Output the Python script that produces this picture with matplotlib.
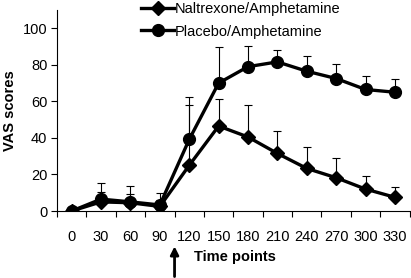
import matplotlib.pyplot as plt
import matplotlib.transforms as mtransforms
import numpy as np

plt.rcParams['font.family'] = ['Liberation Sans', 'DejaVu Sans']

time_points = [0, 30, 60, 90, 120, 150, 180, 210, 240, 270, 300, 330]
naltrexone = [0, 5, 4.5, 2.5, 25, 46.5, 40.5, 31.5, 23.3, 18.2, 12, 7.5]
naltrexone_err = [0, 5.5, 5, 3.5, 33, 15, 17.5, 12.5, 11.8, 10.6, 7.1, 5.8]
placebo = [0, 6.5, 5, 3.3, 39.2, 70, 79, 81.6, 76.5, 72.5, 66.5, 65]
placebo_err = [0, 9, 8.8, 6.4, 23, 19.8, 11.3, 6.7, 8.4, 8.2, 7.4, 7.5]

x = np.arange(len(time_points))
fs = 10.5

fig = plt.figure(figsize=(4.11, 2.78), dpi=100)
ax = fig.add_axes([0.1387, 0.241, 0.858, 0.723])

# upper error bars only
ax.errorbar(x, naltrexone, yerr=[np.zeros(len(x)), naltrexone_err], fmt='none',
            ecolor='black', elinewidth=0.8, capsize=3, capthick=0.8, zorder=2)
ax.errorbar(x, placebo, yerr=[np.zeros(len(x)), placebo_err], fmt='none',
            ecolor='black', elinewidth=0.8, capsize=3, capthick=0.8, zorder=2)

ax.plot(x, naltrexone, color='black', lw=2.4, marker='D', markersize=7,
        label='Naltrexone/Amphetamine', zorder=3)
ax.plot(x, placebo, color='black', lw=2.4, marker='o', markersize=8.5,
        label='Placebo/Amphetamine', zorder=3)

ax.set_xlim(-0.5, len(x) - 0.5)
ax.set_ylim(0, 110)
ax.set_yticks([0, 20, 40, 60, 80, 100])
ax.set_xticks(x)
ax.set_xticklabels([str(t) for t in time_points])
ax.set_xticks(np.arange(-0.5, len(x), 1), minor=True)
ax.tick_params(axis='x', which='major', length=0, pad=14, labelsize=fs)
ax.tick_params(axis='x', which='minor', length=4, width=0.8, direction='out')
ax.tick_params(axis='y', length=4, width=0.8, labelsize=fs, pad=3)

for side in ['top', 'right']:
    ax.spines[side].set_visible(False)
for side in ['left', 'bottom']:
    ax.spines[side].set_linewidth(0.8)

ax.set_ylabel('VAS scores', fontweight='bold', fontsize=fs, labelpad=4)

trans = mtransforms.blended_transform_factory(ax.transData, ax.transAxes)
ax.annotate('', xy=(3.5, -0.162), xytext=(3.5, -0.34), xycoords=trans,
            textcoords=trans,
            arrowprops=dict(arrowstyle='-|>', color='black', lw=2,
                            mutation_scale=12))
ax.text(5.57, -0.23, 'Time points', transform=trans, ha='center', va='center',
        fontweight='bold', fontsize=fs, clip_on=False)

fig.legend(loc='upper left', bbox_to_anchor=(0.33, 1.012), frameon=False,
           fontsize=fs, handlelength=2.2, handletextpad=0.1,
           labelspacing=0.55, borderaxespad=0)

fig.savefig('out.png', dpi=100)
